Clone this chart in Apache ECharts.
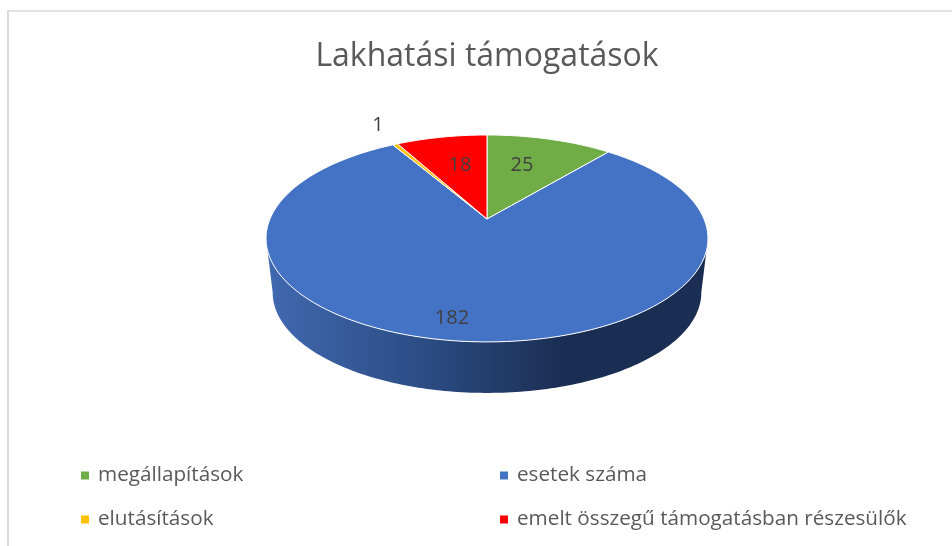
<!DOCTYPE html>
<html>
<head>
<meta charset="utf-8">
<style>
  html, body { margin: 0; padding: 0; background: #fff; }
  #main { width: 952px; height: 546px; }
</style>
<script src="https://cdn.jsdelivr.net/npm/echarts@6/dist/echarts.min.js"></script>
</head>
<body>
<div id="main"></div>
<script>
var title = 'Lakhatási támogatások';
var categories = ['megállapítások', 'esetek száma', 'elutásítások', 'emelt összegű támogatásban részesülők'];
var values = [25, 182, 1, 18];
var colors = ['#70AD47', '#4472C4', '#FFC000', '#FF0000'];

// the pie is a tilted disc, the apex is not the middle of the ellipse
var disc = { cx: 487, cy: 219, rx: 217, ry: 99.8, k: 0.188 };
var rim = { cy: 273.7, scale: 0.97 };
// where each value label sits
var labelSpots = [[522, 165], [452, 318], [378, 125], [460, 165]];

var total = values.reduce(function (a, b) { return a + b; }, 0);

function project(deg, scale, cy) {
  var t = deg * Math.PI / 180;
  var d = 1 + disc.k * Math.cos(t);
  return [
    disc.cx + scale * disc.rx * Math.sin(t) / d,
    cy - scale * disc.ry * Math.cos(t) / d
  ];
}

function arc(from, to, scale, cy) {
  var pts = [];
  var steps = Math.max(2, Math.ceil(Math.abs(to - from)));
  for (var i = 0; i <= steps; i++) {
    pts.push(project(from + (to - from) * i / steps, scale, cy));
  }
  return pts;
}

function makeRender(index) {
  return function (params, api) {
    var before = 0;
    for (var i = 0; i < index; i++) before += values[i];
    var start = before / total * 360;
    var end = (before + api.value(0)) / total * 360;
    var children = [];

    // side wall, only the front part of the disc shows it
    var edge = Math.acos(-disc.k) * 180 / Math.PI;
    var from = Math.max(start, edge);
    var to = Math.min(end, 360 - edge);
    if (to > from) {
      var wall = arc(from, to, 1, disc.cy).concat(arc(to, from, rim.scale, rim.cy));
      children.push({
        type: 'polygon',
        shape: { points: wall },
        style: {
          fill: new echarts.graphic.LinearGradient(0, 0, 1, 0, [
            { offset: 0, color: '#4169b0' },
            { offset: 0.35, color: '#2c4d85' },
            { offset: 0.68, color: '#1a2d52' },
            { offset: 1, color: '#1a2d52' }
          ]),
          stroke: null
        }
      });
    }

    children.push({
      type: 'polygon',
      shape: { points: [[disc.cx, disc.cy]].concat(arc(start, end, 1, disc.cy)) },
      style: { fill: colors[index], stroke: '#ffffff', lineWidth: 1, lineJoin: 'round' }
    });

    children.push({
      type: 'text',
      z2: 10,
      style: {
        x: labelSpots[index][0],
        y: labelSpots[index][1],
        text: String(api.value(0)),
        fill: '#404040',
        font: '20px "Open Sans"',
        align: 'center',
        verticalAlign: 'middle'
      }
    });
    return { type: 'group', children: children };
  };
}

var myChart = echarts.init(document.getElementById('main'), null, { renderer: 'canvas' });
myChart.setOption({
  animation: false,
  color: colors,
  title: {
    text: title,
    left: 482,
    top: 36,
    textAlign: 'center',
    textStyle: { fontFamily: 'Open Sans', fontSize: 32, fontWeight: 'normal', color: '#595959' }
  },
  legend: [
    {
      orient: 'vertical', left: 76, top: 456, itemGap: 15,
      data: [categories[0], categories[2]]
    },
    {
      orient: 'vertical', left: 495, top: 456, itemGap: 15,
      data: [categories[1], categories[3]]
    }
  ].map(function (l) {
    l.icon = 'rect';
    l.itemWidth = 8;
    l.itemHeight = 8;
    l.itemStyle = { borderWidth: 0 };
    l.selectedMode = false;
    l.textStyle = { fontFamily: 'Open Sans', fontSize: 20.7, lineHeight: 29, color: '#595959', padding: [0, 0, 0, 4] };
    return l;
  }),
  graphic: [
    { type: 'line', shape: { x1: 8, y1: 11, x2: 952, y2: 11 }, style: { stroke: '#d9d9d9', lineWidth: 1.5 } },
    { type: 'line', shape: { x1: 8, y1: 10, x2: 8, y2: 546 }, style: { stroke: '#d9d9d9', lineWidth: 2 } }
  ],
  series: categories.map(function (name, i) {
    return {
      type: 'custom',
      name: name,
      coordinateSystem: 'none',
      silent: true,
      itemStyle: { color: colors[i] },
      data: [values[i]],
      renderItem: makeRender(i)
    };
  })
});
</script>
</body>
</html>
